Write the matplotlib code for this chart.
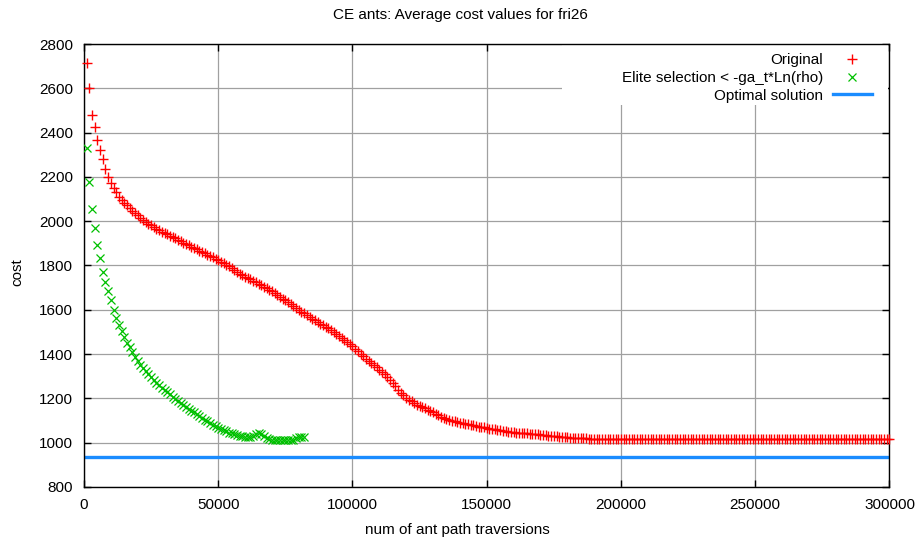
import matplotlib.pyplot as plt
from matplotlib.patches import Rectangle

plt.rcParams["font.family"] = ["Liberation Sans", "DejaVu Sans"]

# ---------- data ----------
# x: ant path traversions, one point every 1000 traversions
orig_x = list(range(1000, 300001, 1000))
orig_cost = [
    2713, 2600, 2481, 2424, 2367, 2321, 2279, 2234, 2201, 2171,
    2150, 2130, 2110, 2094, 2084, 2072, 2060, 2048, 2036, 2026,
    2016, 2004, 1996, 1988, 1981, 1974, 1967, 1960, 1953, 1946,
    1940, 1934, 1928, 1922, 1916, 1910, 1903, 1897, 1891, 1885,
    1879, 1873, 1867, 1861, 1855, 1849, 1843, 1837, 1831, 1825,
    1818, 1810, 1803, 1796, 1788, 1779, 1770, 1763, 1757, 1750,
    1744, 1737, 1731, 1724, 1717, 1711, 1704, 1697, 1690, 1683,
    1676, 1669, 1660, 1651, 1642, 1633, 1624, 1616, 1608, 1600,
    1592, 1585, 1577, 1569, 1560, 1552, 1544, 1537, 1530, 1523,
    1516, 1509, 1500, 1491, 1482, 1473, 1465, 1456, 1446, 1436,
    1425, 1414, 1402, 1391, 1380, 1368, 1358, 1350, 1342, 1330,
    1320, 1311, 1298, 1285, 1270, 1255, 1240, 1226, 1214, 1203,
    1195, 1187, 1179, 1172, 1166, 1160, 1155, 1149, 1143, 1137,
    1131, 1125, 1118, 1113, 1108, 1104, 1100, 1096, 1093, 1090,
    1088, 1085, 1083, 1081, 1078, 1076, 1073, 1071, 1069, 1066,
    1064, 1062, 1060, 1058, 1056, 1054, 1052, 1050, 1048, 1047,
    1046, 1045, 1044, 1043, 1042, 1041, 1040, 1039, 1038, 1036,
    1035, 1034, 1032, 1031, 1030, 1029, 1027, 1026, 1025, 1024,
    1023, 1022, 1021, 1020, 1020, 1019, 1019, 1018, 1018, 1018,
    1017, 1017, 1018, 1017, 1017, 1017, 1016, 1017, 1017, 1016,
    1017, 1016, 1016, 1017, 1016, 1016, 1017, 1016, 1016, 1016,
    1017, 1016, 1016, 1016, 1016, 1017, 1016, 1016, 1016, 1016,
    1016, 1016, 1017, 1016, 1016, 1016, 1016, 1016, 1016, 1017,
    1016, 1016, 1016, 1016, 1016, 1016, 1016, 1017, 1016, 1016,
    1016, 1016, 1016, 1016, 1016, 1016, 1016, 1016, 1016, 1016,
    1016, 1017, 1016, 1016, 1016, 1016, 1016, 1016, 1016, 1016,
    1016, 1016, 1016, 1016, 1016, 1016, 1017, 1016, 1016, 1016,
    1016, 1016, 1016, 1016, 1016, 1016, 1016, 1016, 1016, 1016,
    1016, 1016, 1016, 1016, 1016, 1016, 1016, 1016, 1016, 1016,
    1016, 1016, 1016, 1016, 1016, 1016, 1016, 1016, 1016, 1016,
]

elite_x = list(range(1000, 82001, 1000))
elite_cost = [
    2330, 2177, 2055, 1971, 1893, 1835, 1772, 1725, 1683, 1645,
    1600, 1565, 1533, 1503, 1475, 1452, 1430, 1410, 1388, 1368,
    1352, 1336, 1322, 1308, 1295, 1283, 1271, 1260, 1249, 1238,
    1228, 1218, 1208, 1198, 1189, 1180, 1171, 1162, 1154, 1145,
    1137, 1129, 1120, 1112, 1104, 1096, 1089, 1082, 1075, 1068,
    1062, 1057, 1051, 1046, 1042, 1038, 1034, 1031, 1028, 1026,
    1025, 1024, 1028, 1038, 1042, 1038, 1030, 1022, 1016, 1014,
    1013, 1013, 1012, 1012, 1012, 1011, 1012, 1014, 1020, 1025,
    1027, 1027,
]

optimal = 937

labels = ["Original", "Elite selection < -ga_t*Ln(rho)", "Optimal solution"]

# ---------- plot ----------
FS = 11
fig = plt.figure(figsize=(9.2, 5.44), dpi=100)
ax = fig.add_axes([0.0913, 0.1048, 0.8755, 0.8143])

ax.plot(orig_x, orig_cost, linestyle="none", marker="+", color="#ff0000",
        markersize=7, markeredgewidth=1.0, label=labels[0], clip_on=False, zorder=3)
ax.plot(elite_x, elite_cost, linestyle="none", marker="x", color="#00c000",
        markersize=6, markeredgewidth=0.9, label=labels[1], zorder=3)
ax.axhline(optimal, color="#1a8cff", linewidth=2.4, label=labels[2], zorder=2)

ax.set_xlim(0, 300000)
ax.set_ylim(800, 2800)
ax.set_xticks(range(0, 300001, 50000))
ax.set_yticks(range(800, 2801, 200))
ax.grid(True, color="#a0a0a0", linewidth=0.9)
ax.set_axisbelow(True)
ax.tick_params(direction="in", top=True, right=True, length=5, width=1,
               labelsize=FS, pad=8)
for s in ax.spines.values():
    s.set_linewidth(1.0)

# white key area, like gnuplot's opaque key box (keeps ticks on top)
ax.add_patch(Rectangle((0.593, 0.862), 0.405, 0.136, transform=ax.transAxes,
                       facecolor="white", edgecolor="none", zorder=1))

leg = ax.legend(loc="upper right", bbox_to_anchor=(0.99, 1.0),
                markerfirst=False, fontsize=FS, frameon=False,
                handlelength=2.6, borderaxespad=0.3, borderpad=0.3,
                labelspacing=0.25, handletextpad=0.6)
leg.set_zorder(5)
for t in leg.get_texts():
    t.set_ha("right")

fig.text(0.501, 0.973, "CE ants: Average cost values for fri26", ha="center",
         va="center", fontsize=FS)
fig.text(0.497, 0.026, "num of ant path traversions", ha="center",
         va="center", fontsize=FS)
fig.text(0.019, 0.5, "cost", ha="center", va="center", rotation=90,
         fontsize=FS)

fig.savefig("out.png", dpi=100)
